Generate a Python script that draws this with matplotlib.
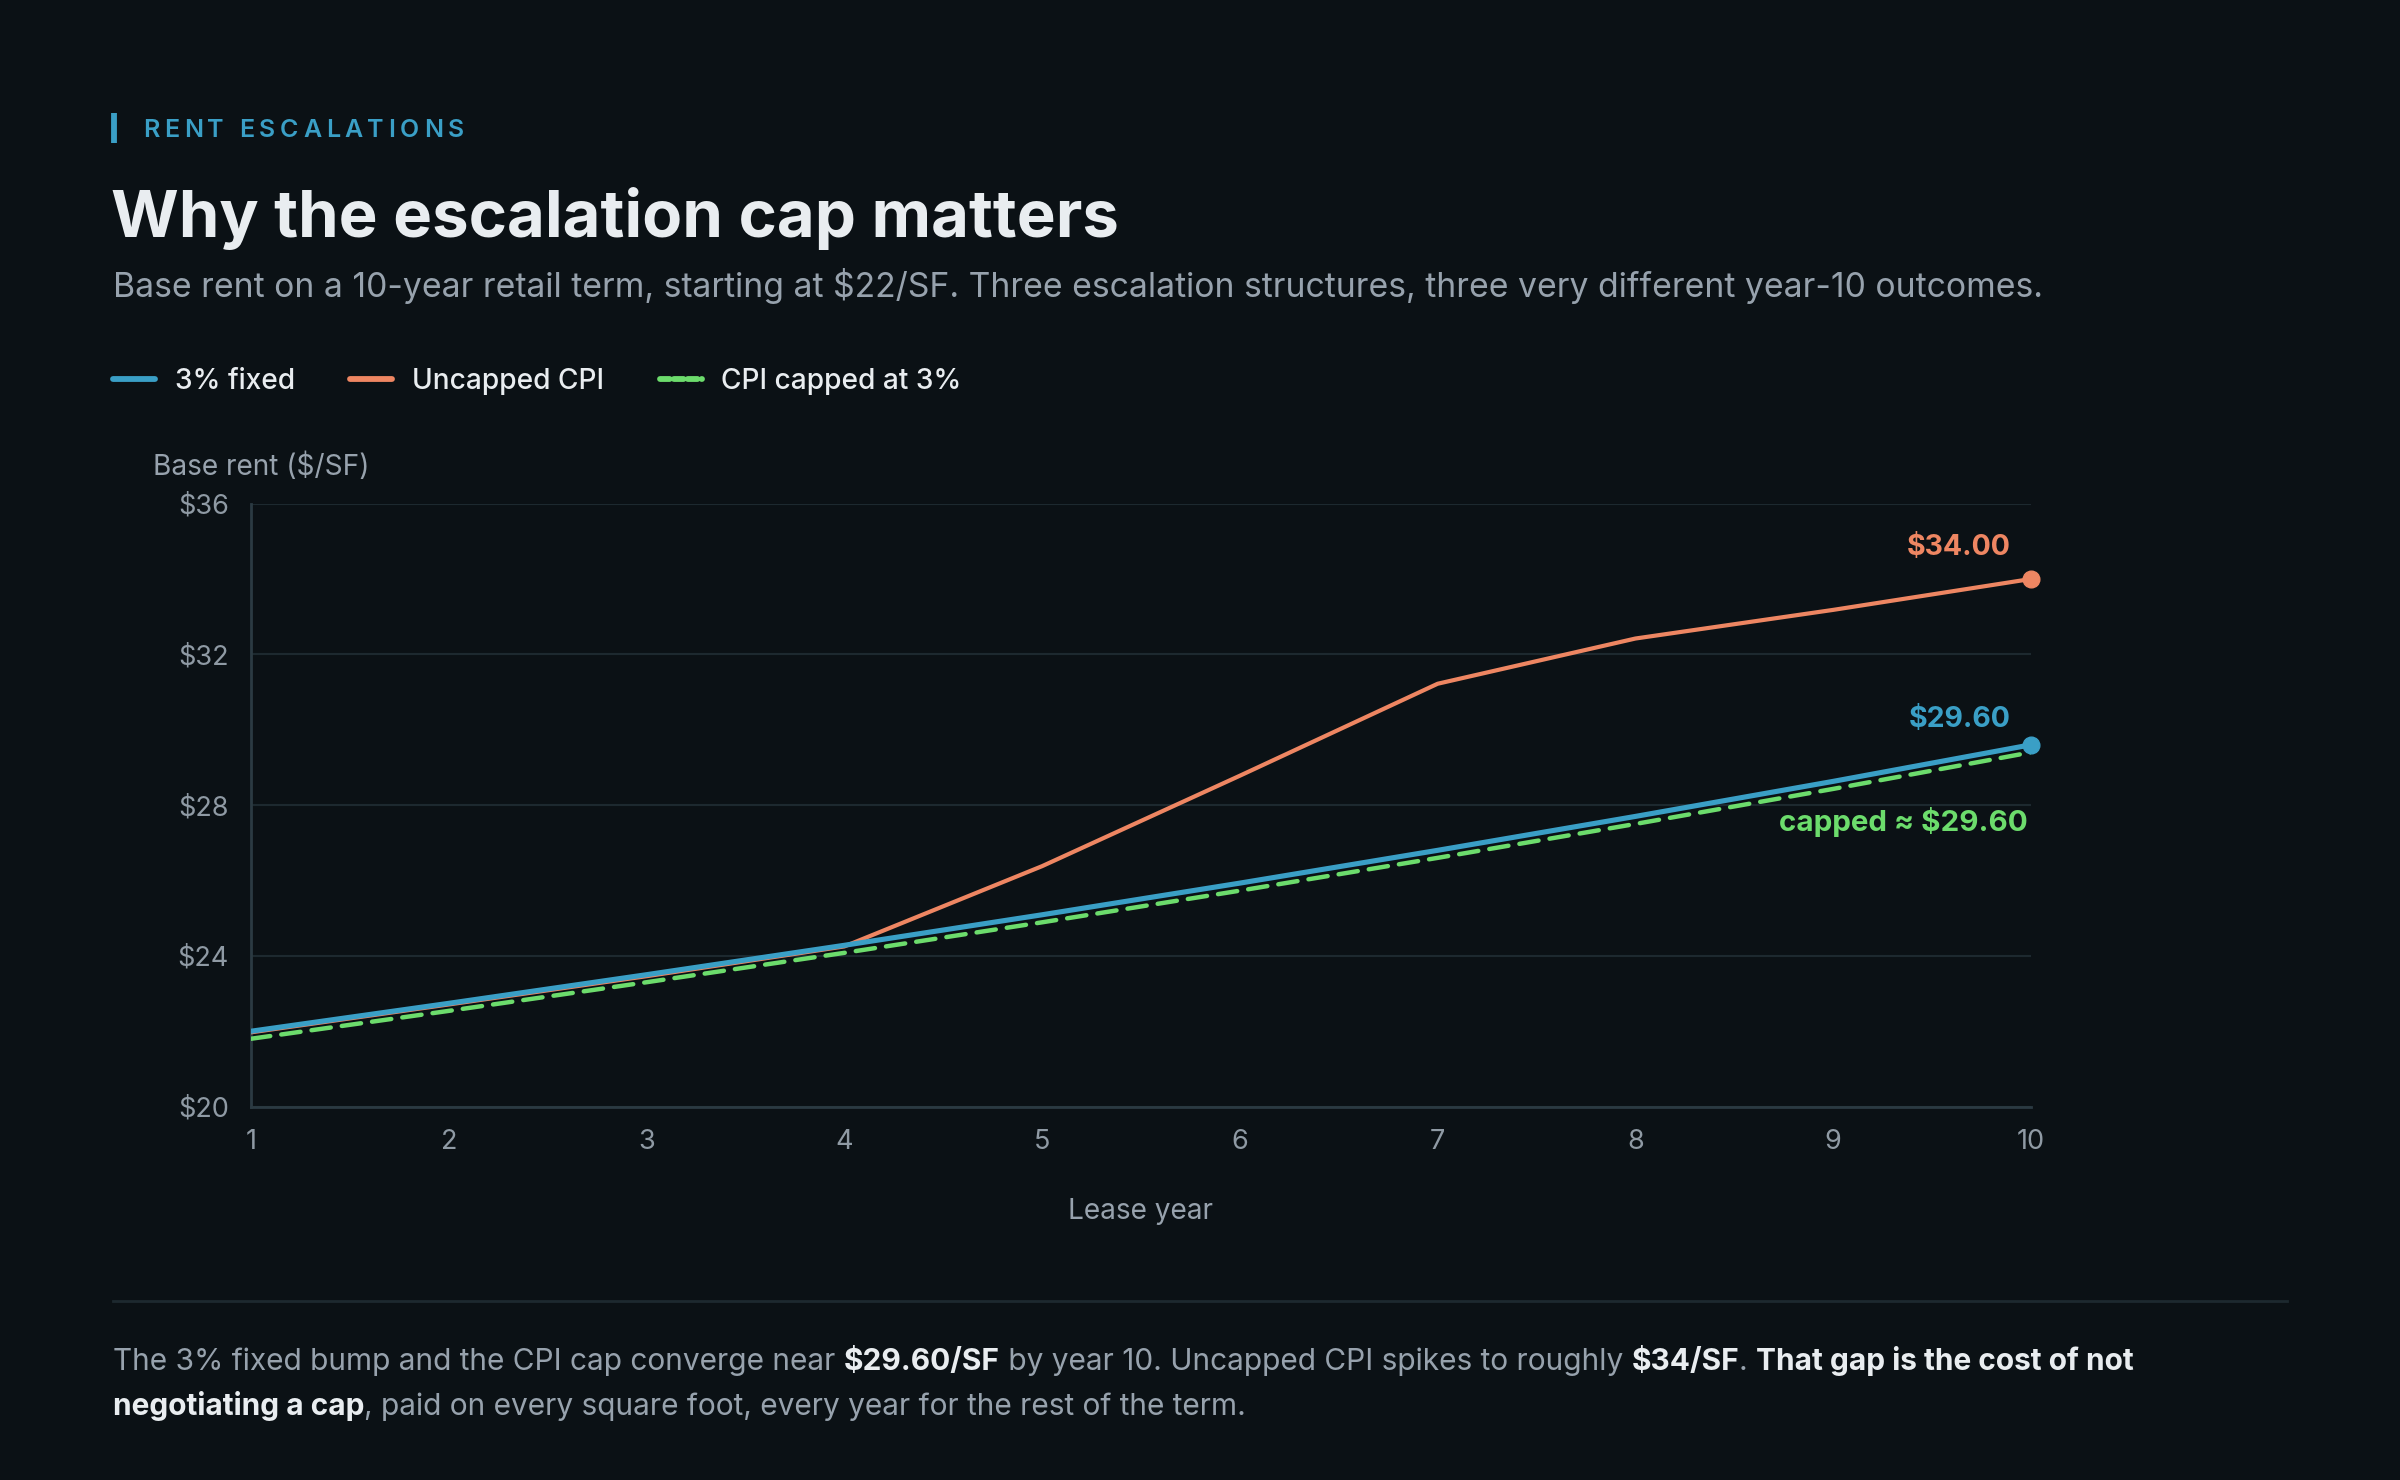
import matplotlib
matplotlib.use("Agg")
import matplotlib.pyplot as plt

plt.rcParams['font.family'] = ['Inter', 'DejaVu Sans']
plt.rcParams['text.parse_math'] = False
plt.rcParams['lines.scale_dashes'] = False

W, H = 2400, 1480
BG = '#0b1115'
BLUE = '#3a9fc6'
ORANGE = '#ee8662'
GREEN = '#6cdc6c'
WHITE = '#e9edf0'
GRAY = '#97a2ad'
TICK = '#8f9aa4'
GRID = '#1d292f'
SPINE = '#2b3a42'

# data
years = [1, 2, 3, 4, 5, 6, 7, 8, 9, 10]
fixed_3 = [22.00, 22.74, 23.50, 24.28, 25.09, 25.93, 26.80, 27.70, 28.63, 29.60]
uncapped_cpi = [21.97, 22.71, 23.46, 24.25, 26.38, 28.78, 31.22, 32.42, 33.18, 34.00]
capped_cpi = [21.80, 22.54, 23.30, 24.08, 24.89, 25.73, 26.60, 27.50, 28.43, 29.40]
y_ticks = [20, 24, 28, 32, 36]
legend_labels = ['3% fixed', 'Uncapped CPI', 'CPI capped at 3%']

fig = plt.figure(figsize=(W / 100, H / 100), dpi=100, facecolor=BG)
renderer = fig.canvas.get_renderer()


def fx(x):
    return x / W


def fy(y):
    return 1 - y / H


def text_width(s, **kw):
    t = fig.text(0, 0, '|' + s + '|', **kw)
    a = t.get_window_extent(renderer=renderer).width
    t.remove()
    t = fig.text(0, 0, '||', **kw)
    b = t.get_window_extent(renderer=renderer).width
    t.remove()
    return a - b


def draw_runs(x, y, parts, size):
    for s, weight, color in parts:
        fig.text(fx(x), fy(y), s, fontsize=size, weight=weight, color=color, va='baseline', ha='left')
        x += text_width(s, fontsize=size, weight=weight)


def spaced(x, y, s, size, spacing, **kw):
    for ch in s:
        fig.text(fx(x), fy(y), ch, fontsize=size, va='baseline', ha='left', **kw)
        x += text_width(ch, fontsize=size, weight=kw.get('weight', 'normal')) + spacing


# header
fig.add_artist(plt.Line2D([fx(114), fx(114)], [fy(113), fy(143)], color=BLUE, lw=4.2, solid_capstyle='butt'))
spaced(143, 137, 'RENT ESCALATIONS', 18, 4.6, weight='semibold', color=BLUE)
fig.text(fx(111), fy(237), 'Why the escalation cap matters', fontsize=47, weight='bold', color=WHITE, va='baseline')
fig.text(fx(113), fy(297), 'Base rent on a 10-year retail term, starting at $22/SF. Three escalation structures, three very different year-10 outcomes.',
         fontsize=24.3, color=GRAY, va='baseline')

# legend
leg_x = [(113, 175), (350, 412), (660, 721)]
leg_colors = [BLUE, ORANGE, GREEN]
for (mx, tx), lab, c, i in zip(leg_x, legend_labels, leg_colors, range(3)):
    ln = plt.Line2D([fx(mx), fx(mx + 42)], [fy(379), fy(379)], color=c, lw=4.2,
                    solid_capstyle='round', dash_capstyle='round')
    if i == 2:
        ln.set_dashes((7, 3))
    fig.add_artist(ln)
    fig.text(fx(tx), fy(389), lab, fontsize=20.2, weight='medium', color=WHITE, va='baseline')

# axes
ax = fig.add_axes([fx(251), fy(1106.6), (2031 - 251) / W, (1106.6 - 503.6) / H])
ax.set_facecolor(BG)
ax.plot(years, uncapped_cpi, color=ORANGE, lw=3.0, solid_capstyle='round', solid_joinstyle='round', zorder=3)
ax.plot(years, capped_cpi, color=GREEN, lw=3.2, dashes=(14, 8), dash_capstyle='round', zorder=4)
ax.plot(years, fixed_3, color=BLUE, lw=3.7, solid_capstyle='round', solid_joinstyle='round', zorder=5)
ax.plot(years[-1], uncapped_cpi[-1], 'o', color=ORANGE, ms=12, zorder=6, clip_on=False)
ax.plot(years[-1], fixed_3[-1], 'o', color=BLUE, ms=12, zorder=6, clip_on=False)

ax.set_xlim(1, 10)
ax.set_ylim(20, 36)
ax.set_xticks(years)
ax.set_yticks(y_ticks)
ax.set_yticklabels(['$%d' % v for v in y_ticks])
ax.tick_params(length=0, colors=TICK, labelsize=19.5)
ax.tick_params(axis='x', pad=16)
ax.tick_params(axis='y', pad=16)
ax.grid(axis='y', color=GRID, lw=1.5)
ax.set_axisbelow(True)
for s in ['top', 'right']:
    ax.spines[s].set_visible(False)
for s in ['left', 'bottom']:
    ax.spines[s].set_color(SPINE)
    ax.spines[s].set_linewidth(2)
ax.set_xlabel('Lease year', color=GRAY, fontsize=20.2, labelpad=31)

fig.text(fx(153), fy(475), 'Base rent ($/SF)', fontsize=20.2, color=GRAY, va='baseline')

# end labels
fig.text(fx(2011), fy(555), '$%.2f' % uncapped_cpi[-1], fontsize=20.5, weight='bold', color=ORANGE, ha='right', va='baseline')
fig.text(fx(2011), fy(727), '$%.2f' % fixed_3[-1], fontsize=20.5, weight='bold', color=BLUE, ha='right', va='baseline')
fig.text(fx(2028), fy(831), 'capped \u2248 $%.2f' % fixed_3[-1], fontsize=21.3, weight='bold', color=GREEN, ha='right', va='baseline')

# footer
fig.add_artist(plt.Line2D([fx(113), fx(2287)], [fy(1301), fy(1301)], color=GRID, lw=2))
draw_runs(113, 1370, [
    ('The 3% fixed bump and the CPI cap converge near ', 'normal', GRAY),
    ('$29.60/SF', 'bold', WHITE),
    (' by year 10. Uncapped CPI spikes to roughly ', 'normal', GRAY),
    ('$34/SF', 'bold', WHITE),
    ('. ', 'normal', GRAY),
    ('That gap is the cost of not', 'bold', WHITE),
], 21.5)
draw_runs(113, 1415, [
    ('negotiating a cap', 'bold', WHITE),
    (', paid on every square foot, every year for the rest of the term.', 'normal', GRAY),
], 21.5)

fig.savefig('out.png', dpi=100, facecolor=BG)
